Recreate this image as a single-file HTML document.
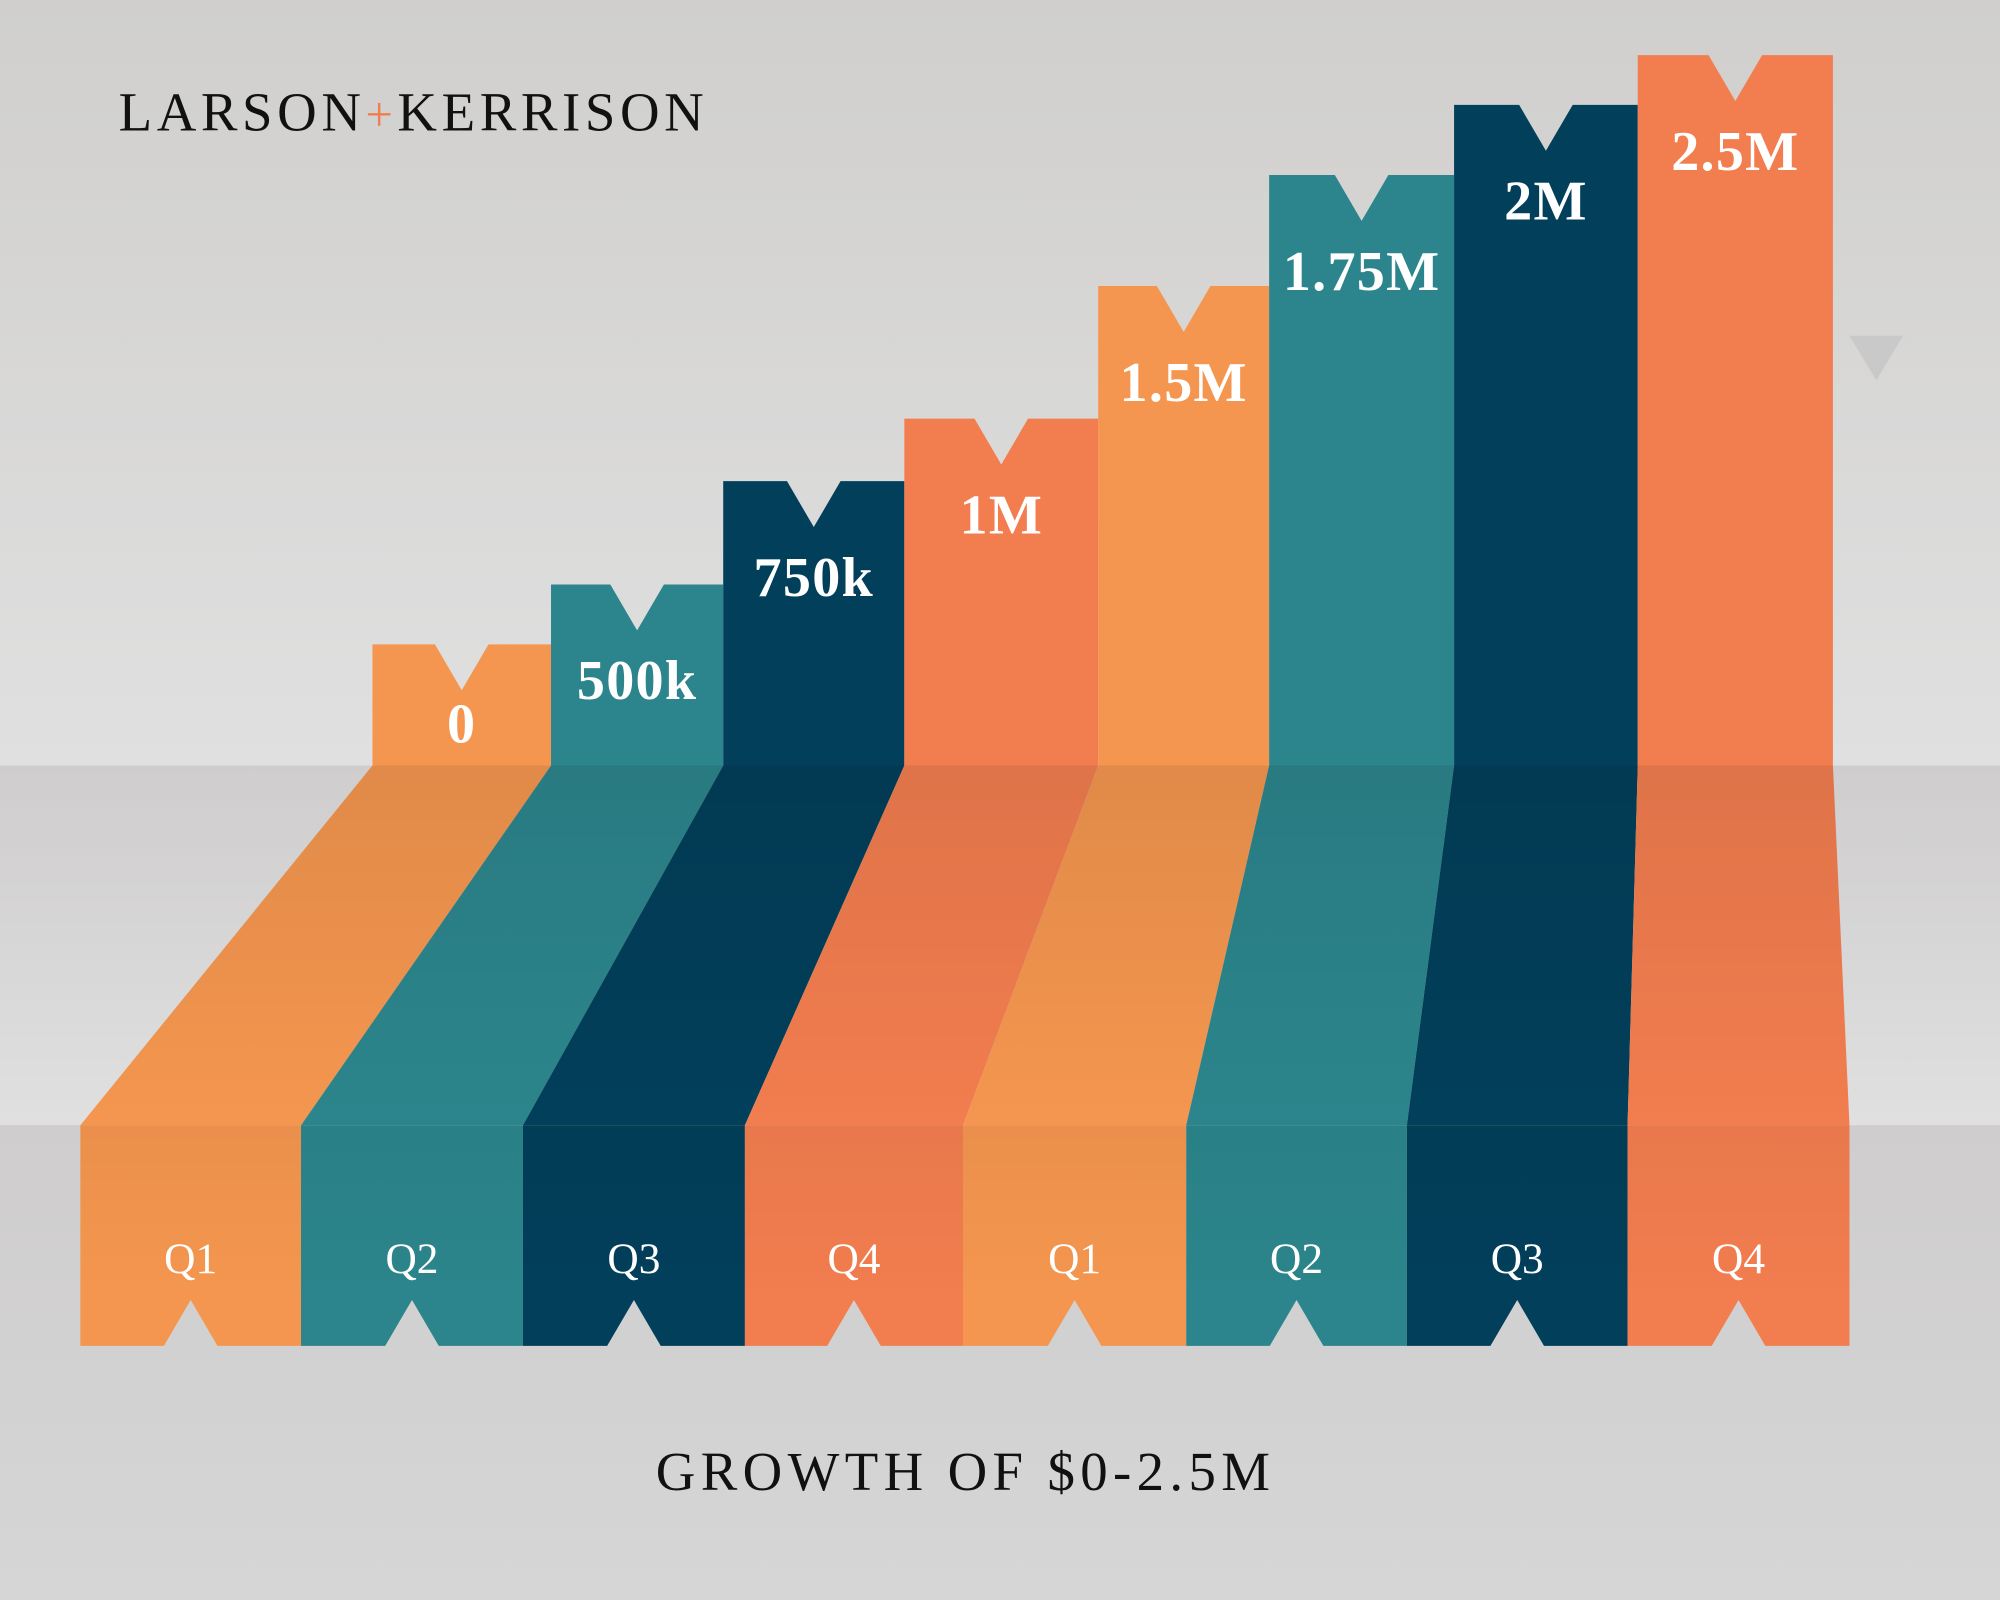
<!DOCTYPE html>
<html><head><meta charset="utf-8"><style>
html,body{margin:0;padding:0;background:#d4d4d4;}
svg{display:block;}
</style></head><body>
<svg id="chart" width="2000" height="1600" viewBox="0 0 1568 1254" xmlns="http://www.w3.org/2000/svg">
<defs>
<linearGradient id="bgTop" x1="0" y1="0" x2="0" y2="1"><stop offset="0" stop-color="#d0cfcd"/><stop offset="1" stop-color="#e0e0e0"/></linearGradient>
<linearGradient id="bgMid" x1="0" y1="0" x2="0" y2="1"><stop offset="0" stop-color="#cfcdcd"/><stop offset="1" stop-color="#e0e0e0"/></linearGradient>
<linearGradient id="bgBot" x1="0" y1="0" x2="0" y2="1"><stop offset="0" stop-color="#cfcdcd"/><stop offset="1" stop-color="#d6d6d6"/></linearGradient>
<linearGradient id="shade" x1="0" y1="0" x2="0" y2="1"><stop offset="0" stop-color="#000" stop-opacity="0.08"/><stop offset="1" stop-color="#000" stop-opacity="0"/></linearGradient>
<linearGradient id="shade2" x1="0" y1="0" x2="0" y2="1"><stop offset="0" stop-color="#000" stop-opacity="0.04"/><stop offset="1" stop-color="#000" stop-opacity="0"/></linearGradient>
</defs>
<rect x="0" y="0" width="1568" height="600" fill="url(#bgTop)"/>
<rect x="0" y="600" width="1568" height="282" fill="url(#bgMid)"/>
<rect x="0" y="882" width="1568" height="372" fill="url(#bgBot)"/>
<polygon points="1450,263 1492,263 1471,298" fill="#c9c9c9"/>
<text x="93" y="102" font-family="'Liberation Serif', serif" font-size="43" letter-spacing="3.6" fill="#111">LARSON<tspan fill="#f27d4f" font-size="38">+</tspan>KERRISON</text>
<text x="757" y="1168" text-anchor="middle" font-family="'Liberation Serif', serif" font-size="43" letter-spacing="4.2" fill="#111">GROWTH OF $0-2.5M</text>
<g id="bars"></g>
</svg>
<script>
const labels = ["0","500k","750k","1M","1.5M","1.75M","2M","2.5M"];
const quarters = ["Q1","Q2","Q3","Q4","Q1","Q2","Q3","Q4"];
const levels = [95,142,223,272,376,463,518,557];
const colors = ["#f4964f","#2c858c","#023f5a","#f27d4f","#f4964f","#2c858c","#023f5a","#f27d4f"];
const barEdges = [292,432,567,709,861,995,1140,1284,1437];
const boxEdges = [63,236,410,584,755,930,1103,1276,1450];

const baseY = 600, boxTop = 882, boxBot = 1055;
function yScale(v){ return baseY - v; }
const NS = "http://www.w3.org/2000/svg";
const g = document.getElementById("bars");
function mk(tag, attrs){ const e=document.createElementNS(NS,tag); for(const k in attrs) e.setAttribute(k,attrs[k]); return e; }

levels.forEach((lv,i)=>{
  const x0=barEdges[i], x1=barEdges[i+1], top=yScale(lv), cx=(x0+x1)/2;
  const bar = mk("polygon",{points:`${x0},${top} ${cx-21},${top} ${cx},${top+36} ${cx+21},${top} ${x1},${top} ${x1},${baseY} ${x0},${baseY}`, fill:colors[i]});
  
  
  g.appendChild(bar);
  const bx0=boxEdges[i], bx1=boxEdges[i+1], bcx=(bx0+bx1)/2;
  const trap = mk("polygon",{points:`${x0},${baseY} ${x1},${baseY} ${bx1},${boxTop} ${bx0},${boxTop}`, fill:colors[i]});
  
  
  g.appendChild(trap);
  const sh = mk("polygon",{points:`${x0},${baseY} ${x1},${baseY} ${bx1},${boxTop} ${bx0},${boxTop}`, fill:"url(#shade)"});
  
  
  g.appendChild(sh);
  const box = mk("polygon",{points:`${bx0},${boxTop} ${bx1},${boxTop} ${bx1},${boxBot} ${bcx+21},${boxBot} ${bcx},${boxBot-36} ${bcx-21},${boxBot} ${bx0},${boxBot}`, fill:colors[i]});
  
  
  g.appendChild(box);
  const bsh = mk("rect",{x:bx0,y:boxTop,width:bx1-bx0,height:boxBot-boxTop-36,fill:"url(#shade2)"});
  
  
  g.appendChild(bsh);
  const t = mk("text",{x:cx,y:top+(i===0?77:90),"text-anchor":"middle","font-family":"'Liberation Serif', serif","font-size":"44","font-weight":"600","letter-spacing":"1",fill:"#fff"});
  t.textContent = labels[i];
  
  
  g.appendChild(t);
  const q = mk("text",{x:bcx,y:998,"text-anchor":"middle","font-family":"'Liberation Serif', serif","font-size":"34",fill:"#fff"});
  q.textContent = quarters[i];
  
  
  g.appendChild(q);
});
</script>
</body></html>
